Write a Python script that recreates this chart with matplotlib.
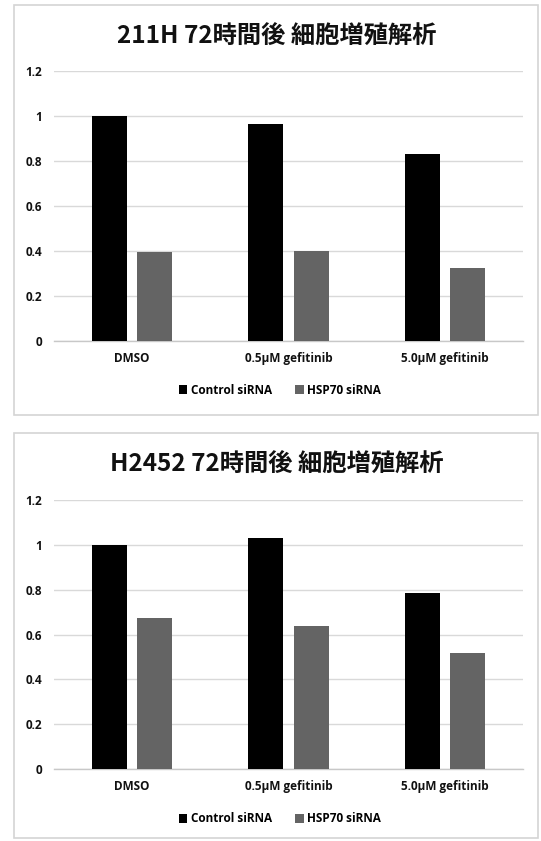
import matplotlib
matplotlib.use("Agg")
import matplotlib.pyplot as plt
from matplotlib.patches import Rectangle
import numpy as np

plt.rcParams['font.family'] = ['Open Sans', 'Noto Sans CJK JP', 'DejaVu Sans']

categories = ["DMSO", "0.5\u03bcM gefitinib", "5.0\u03bcM gefitinib"]
series_names = ["Control siRNA", "HSP70 siRNA"]
colors = ["#000000", "#646464"]

titles = ["211H 72時間後 細胞増殖解析", "H2452 72時間後 細胞増殖解析"]
control_211h = [1.00, 0.963, 0.831]
hsp70_211h = [0.394, 0.401, 0.326]
control_h2452 = [1.00, 1.030, 0.787]
hsp70_h2452 = [0.674, 0.636, 0.517]
yticks = [0, 0.2, 0.4, 0.6, 0.8, 1.0, 1.2]
ytick_labels = ["0", "0.2", "0.4", "0.6", "0.8", "1", "1.2"]

W, H = 541, 841
fig = plt.figure(figsize=(W / 100, H / 100), dpi=100)
fig.patch.set_facecolor("white")


def fx(px):
    return px / W


def fy(py):
    return 1 - py / H


panels = [
    # (panel box top, bottom, axes top y, axes bottom y, title y, legend y, title, data)
    (5, 415, 70.5, 341, 37, 390, titles[0], control_211h, hsp70_211h),
    (433, 838, 500, 769, 465, 819, titles[1], control_h2452, hsp70_h2452),
]

bar_w = 0.224
offset = 0.144
x = np.arange(len(categories))
text_color = "#111111"

for (box_t, box_b, ax_t, ax_b, title_y, leg_y, title, ctrl, hsp) in panels:
    fig.patches.append(Rectangle((fx(14), fy(box_b)), fx(538) - fx(14), fy(box_t) - fy(box_b),
                                 transform=fig.transFigure, fill=False,
                                 edgecolor="#d4d4d4", linewidth=1.2))
    ax = fig.add_axes([fx(54), fy(ax_b), fx(523) - fx(54), fy(ax_t) - fy(ax_b)])
    ax.bar(x - offset, ctrl, width=bar_w, color=colors[0], label=series_names[0], zorder=3)
    ax.bar(x + offset, hsp, width=bar_w, color=colors[1], label=series_names[1], zorder=3)
    ax.set_xlim(-0.5, 2.5)
    ax.set_ylim(0, 1.2)
    ax.set_yticks(yticks)
    ax.set_yticklabels(ytick_labels, fontsize=8.5, fontweight="bold", color=text_color)
    ax.set_xticks(x)
    ax.set_xticklabels(categories, fontsize=8.5, fontweight="bold", color=text_color)
    ax.tick_params(axis="both", length=0)
    ax.tick_params(axis="y", pad=8.5)
    ax.tick_params(axis="x", pad=8)
    ax.yaxis.grid(True, color="#d9d9d9", linewidth=1.0, zorder=0)
    for s in ["top", "right", "left"]:
        ax.spines[s].set_visible(False)
    ax.spines["bottom"].set_color("#c8c8c8")
    ax.spines["bottom"].set_linewidth(1.0)
    ax.set_axisbelow(True)
    fig.text(fx(277), fy(title_y), title, ha="center", va="center",
             fontsize=17.5, fontweight="bold", color=text_color,
             family=["Noto Sans CJK JP", "DejaVu Sans"])
    ax.legend(loc="center", bbox_to_anchor=(fx(280), fy(leg_y)),
              bbox_transform=fig.transFigure, ncol=2, frameon=False,
              prop={"size": 8.5, "weight": "bold"}, handlelength=0.7,
              handleheight=0.7, handletextpad=0.3, columnspacing=2.0)

fig.savefig("out.png", dpi=100, facecolor="white")
